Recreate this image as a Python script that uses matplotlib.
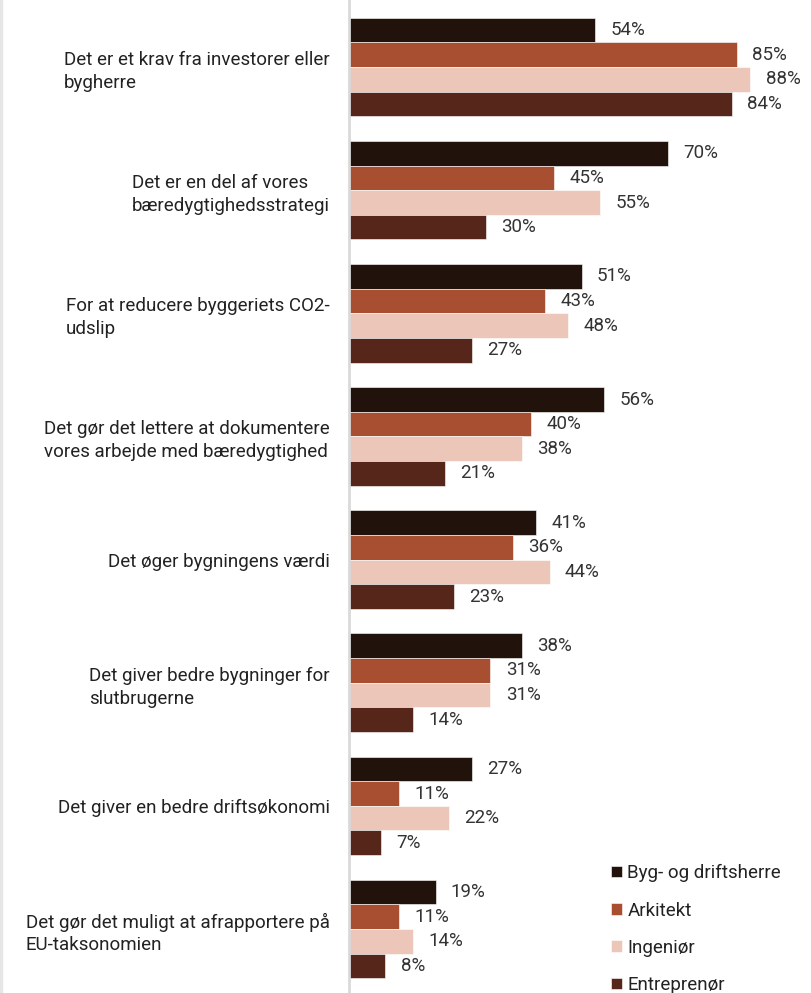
import matplotlib.pyplot as plt
import numpy as np
from matplotlib.patches import Patch, Rectangle

# Reasons for choosing, answers in percent per respondent group
reasons = [
    "Det er et krav fra investorer eller\nbygherre",
    "Det er en del af vores\nbæredygtighedsstrategi",
    "For at reducere byggeriets CO2-\nudslip",
    "Det gør det lettere at dokumentere\nvores arbejde med bæredygtighed",
    "Det øger bygningens værdi",
    "Det giver bedre bygninger for\nslutbrugerne",
    "Det giver en bedre driftsøkonomi",
    "Det gør det muligt at afrapportere på\nEU-taksonomien",
]
groups = ["Byg- og driftsherre", "Arkitekt", "Ingeniør", "Entreprenør"]

bygherre = [54, 70, 51, 56, 41, 38, 27, 19]
arkitekt = [85, 45, 43, 40, 36, 31, 11, 11]
ingenior = [88, 55, 48, 38, 44, 31, 22, 14]
entreprenor = [84, 30, 27, 21, 23, 14, 7, 8]

colors = ["#22120c", "#a84f32", "#ecc6b8", "#56261a"]
fs = 13.5

plt.rcParams['font.family'] = ['Roboto', 'DejaVu Sans']

fig = plt.figure(figsize=(8.12, 9.93), dpi=100)
ax = fig.add_axes([349 / 812, 0, 456 / 812, 1])

# thin grey edge on the left of the canvas
fig.patches.append(Rectangle((0, 0), 2 / 812, 1, transform=fig.transFigure,
                             color="#e6e6e6", zorder=0))

y = np.arange(len(reasons))
h = 0.2
series = [bygherre, arkitekt, ingenior, entreprenor]
for i, (vals, c) in enumerate(zip(series, colors)):
    pos = y - 1.5 * h + i * h
    ax.barh(pos, vals, height=h, color=c, edgecolor="white", linewidth=0.4)
    for p, v in zip(pos, vals):
        ax.annotate(f"{v}%", (v, p), xytext=(11, 0), textcoords="offset points",
                    ha="left", va="center", fontsize=fs, color="#333333")

ax.set_xlim(0, 100)
ax.set_ylim(7.52, -0.545)
ax.set_yticks(y)
ax.set_yticklabels(reasons, fontsize=fs, color="#222222", ha="right",
                   multialignment="left", linespacing=1.35)
ax.tick_params(axis="y", length=0, pad=14)
ax.set_xticks([])
for s in ["top", "right", "bottom"]:
    ax.spines[s].set_visible(False)
ax.spines["left"].set_color("#d9d9d9")
ax.spines["left"].set_linewidth(2)

handles = [Patch(facecolor=c, edgecolor="white", linewidth=0.4) for c in colors]
fig.legend(handles, groups, loc="upper left", bbox_to_anchor=(602 / 812, 1 - 855 / 993),
           frameon=False, fontsize=fs, handlelength=0.55, handleheight=0.55,
           handletextpad=0.3, labelspacing=1.02, borderpad=0, labelcolor="#222222")

fig.savefig("out.png", dpi=100)
